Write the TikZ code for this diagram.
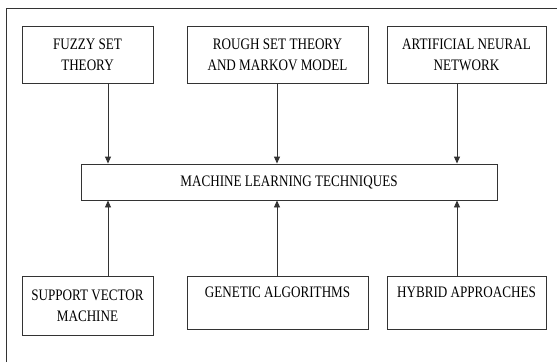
\documentclass[tikz,border=0pt]{standalone}
\usepackage{fontspec}
\setmainfont{Liberation Serif}[FakeStretch=0.82]
\usetikzlibrary{arrows.meta}
\begin{document}
\begin{tikzpicture}[x=1pt,y=-1pt,
  box/.style={draw=black!80, line width=0.9pt, rectangle, inner sep=0pt,
    align=center, font=\fontsize{16}{21}\selectfont},
  arr/.style={draw=black!80, line width=0.9pt,
    -{Triangle[length=7pt,width=6pt]}}]
  \useasboundingbox[fill=white] (0,0) rectangle (557,362);
  % frame
  \draw[black!80, line width=0.9pt] (6.5,362) -- (6.5,8.5) -- (557,8.5);

  % top row
  \node[box, minimum width=131, minimum height=57] (fuzzy) at (87.5,54.5) {FUZZY SET\\THEORY};
  \node[box, minimum width=181, minimum height=57] (rough) at (277.5,54.5) {ROUGH SET THEORY\\AND MARKOV MODEL};
  \node[box, minimum width=159, minimum height=57] (ann) at (466.5,54.5) {ARTIFICIAL NEURAL\\NETWORK};

  % centre
  \node[box, minimum width=416, minimum height=36] (ml) at (289,182) {MACHINE LEARNING TECHNIQUES};

  % bottom row
  \node[box, minimum width=131, minimum height=59] (svm) at (87.5,305.5) {SUPPORT VECTOR\\MACHINE};
  \node[box, minimum width=181, minimum height=53] (ga) at (277.5,302.5) {GENETIC ALGORITHMS\\\mbox{}};
  \node[box, minimum width=159, minimum height=53] (hyb) at (466.5,302.5) {HYBRID APPROACHES\\\mbox{}};

  % arrow columns
  \coordinate (c1) at (108,0);
  \coordinate (c2) at (277,0);
  \coordinate (c3) at (457,0);

  \draw[arr] (fuzzy.south -| c1) -- (ml.north -| c1);
  \draw[arr] (rough.south -| c2) -- (ml.north -| c2);
  \draw[arr] (ann.south -| c3) -- (ml.north -| c3);
  \draw[arr] (svm.north -| c1) -- (ml.south -| c1);
  \draw[arr] (ga.north -| c2) -- (ml.south -| c2);
  \draw[arr] (hyb.north -| c3) -- (ml.south -| c3);
\end{tikzpicture}
\end{document}
